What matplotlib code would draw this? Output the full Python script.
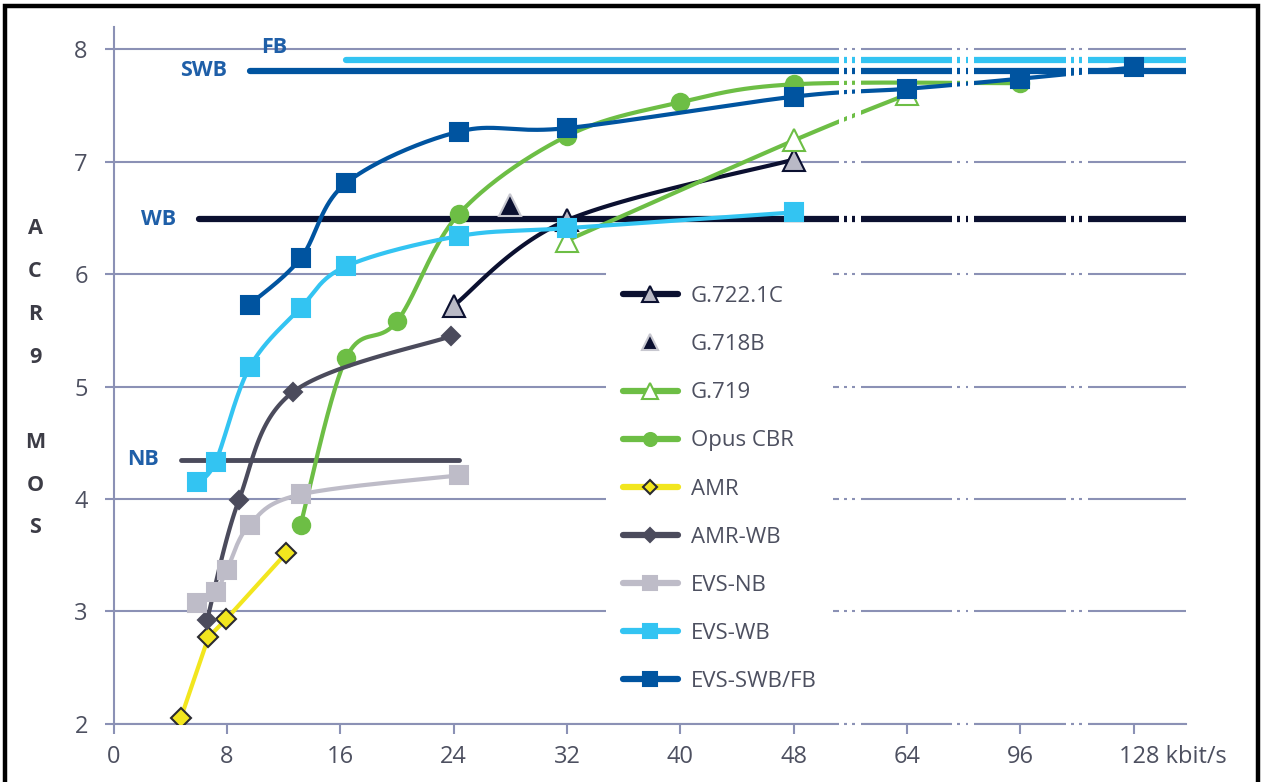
import numpy as np
import matplotlib.pyplot as plt
from matplotlib.patches import Rectangle

# x axis is broken: 0..48 linear, then 64, 96, 128 evenly spaced
kb_break = [-48, 48, 64, 96, 128, 160]
pos_break = [-6, 6, 7, 8, 9, 10]


def fwd(x):
    return np.interp(x, kb_break, pos_break)


def inv(p):
    return np.interp(p, pos_break, kb_break)


# ---- data (kbit/s, ACR9 MOS) ----
g7221c_x = [24, 32, 48]
g7221c_y = [5.72, 6.48, 7.02]
g718b_x = [28]
g718b_y = [6.62]
g719_x = [32, 48, 64]
g719_y = [6.30, 7.19, 7.60]
opus_x = [13.2, 16.4, 20, 24.4, 32, 40, 48, 96]
opus_y = [3.77, 5.25, 5.58, 6.54, 7.23, 7.53, 7.69, 7.70]
amr_x = [4.75, 6.7, 7.95, 12.2]
amr_y = [2.05, 2.77, 2.93, 3.52]
amrwb_x = [6.6, 8.85, 12.65, 23.85]
amrwb_y = [2.92, 3.99, 4.95, 5.45]
evsnb_x = [5.9, 7.2, 8.0, 9.6, 13.2, 24.4]
evsnb_y = [3.07, 3.17, 3.37, 3.77, 4.04, 4.21]
evswb_x = [5.9, 7.2, 9.6, 13.2, 16.4, 24.4, 32, 48]
evswb_y = [4.15, 4.33, 5.17, 5.70, 6.07, 6.34, 6.41, 6.55]
evsswb_x = [9.6, 13.2, 16.4, 24.4, 32, 48, 64, 96, 128]
evsswb_y = [5.73, 6.14, 6.81, 7.27, 7.30, 7.58, 7.65, 7.74, 7.84]

# bandwidth reference levels: name, start kbit/s, MOS
band_names = ['FB', 'SWB', 'WB', 'NB']
band_start = [16.4, 9.6, 6.0, 4.75]
band_end = [142.7, 142.7, 142.7, 24.4]
band_level = [7.91, 7.81, 6.49, 4.35]

xticks = [0, 8, 16, 24, 32, 40, 48, 64, 96, 128]
xtick_labels = ['0', '8', '16', '24', '32', '40', '48', '64', '96', '']
yticks = [2, 3, 4, 5, 6, 7, 8]

# colours
c_grid = '#8B91B5'
c_navy = '#0B1030'
c_dblue = '#0054A0'
c_lblue = '#33C4F2'
c_green = '#6DBE45'
c_yellow = '#F2E61E'
c_dgrey = '#4B4B5C'
c_lgrey = '#BEBCC8'
c_label = '#1F5FA8'
c_text = '#4D5060'


def smooth(xs, ys, n=40):
    # Catmull-Rom style bezier through the points, in screen-like (position, MOS) space
    p = fwd(np.asarray(xs, float))
    y = np.asarray(ys, float)
    pts = np.column_stack([p, y])
    if len(pts) < 3:
        return inv(pts[:, 0]), pts[:, 1]
    ext = np.vstack([pts[0], pts, pts[-1]])
    out = []
    t = np.linspace(0, 1, n)[:, None]
    for i in range(1, len(ext) - 2):
        p0, p1, p2, p3 = ext[i - 1], ext[i], ext[i + 1], ext[i + 2]
        b1 = p1 + (p2 - p0) / 6
        b2 = p2 - (p3 - p1) / 6
        seg = ((1 - t) ** 3) * p1 + 3 * ((1 - t) ** 2) * t * b1 + 3 * (1 - t) * t ** 2 * b2 + t ** 3 * p2
        out.append(seg if i == 1 else seg[1:])
    out = np.vstack(out)
    return inv(out[:, 0]), out[:, 1]


plt.rcParams['font.family'] = ['Open Sans', 'DejaVu Sans']

fig = plt.figure(figsize=(12.61, 7.82), dpi=100)
ax = fig.add_axes([113.5 / 1261, (782 - 723.7) / 782, (1186 - 113.5) / 1261, (723.7 - 27) / 782])
ax.set_xscale('function', functions=(fwd, inv))
ax.set_xlim(0, inv(9.46))
ax.set_ylim(2, 8.2)

# range lines
band_colors = [c_lblue, c_dblue, c_navy, c_dgrey]
band_lw = [4.5, 4.5, 4.5, 3.5]
for name, x0, x1, lev, col, lw in zip(band_names, band_start, band_end, band_level, band_colors, band_lw):
    ax.plot([x0, x1], [lev, lev], color=col, lw=lw, solid_capstyle='round', zorder=2)
    if name == 'FB':
        ax.annotate(name, xy=(x0, lev), xytext=(-42, 9), textcoords='offset points',
                    ha='right', va='center', fontsize=15.5, fontweight='bold', color=c_label)
    else:
        ax.annotate(name, xy=(x0, lev), xytext=(-16, 0), textcoords='offset points',
                    ha='right', va='center', fontsize=15.5, fontweight='bold', color=c_label)

series = [
    ('G.722.1C', g7221c_x, g7221c_y, c_navy, '^', 15.5, '#B9B9C6', c_navy, True),
    ('G.718B', g718b_x, g718b_y, None, '^', 15.5, c_navy, '#C8C8D0', False),
    ('G.719', g719_x, g719_y, c_green, '^', 15.5, 'white', c_green, True),
    ('Opus CBR', opus_x, opus_y, c_green, 'o', 12.5, c_green, c_green, True),
    ('AMR', amr_x, amr_y, c_yellow, 'D', 10, c_yellow, '#2A2A30', False),
    ('AMR-WB', amrwb_x, amrwb_y, c_dgrey, 'D', 9.5, c_dgrey, c_dgrey, True),
    ('EVS-NB', evsnb_x, evsnb_y, c_lgrey, 's', 13, c_lgrey, c_lgrey, True),
    ('EVS-WB', evswb_x, evswb_y, c_lblue, 's', 13, c_lblue, c_lblue, True),
    ('EVS-SWB/FB', evsswb_x, evsswb_y, c_dblue, 's', 13, c_dblue, c_dblue, True),
]

handles = []
for i, (name, xs, ys, lc, mk, ms, mfc, mec, sm) in enumerate(series):
    z = 3 + i * 0.1
    if lc is not None:
        if sm:
            sx, sy = smooth(xs, ys)
        else:
            sx, sy = xs, ys
        ax.plot(sx, sy, color=lc, lw=3, solid_capstyle='round', zorder=z)
    ax.plot(xs, ys, ls='none', marker=mk, ms=ms, mfc=mfc, mec=mec, mew=1.5, zorder=z + 0.05)
    h, = ax.plot([], [], color=lc if lc else 'none', lw=4.5 if lc else 0, solid_capstyle='round',
                 marker=mk, ms=ms, mfc=mfc, mec=mec, mew=1.5)
    handles.append(h)

# axes styling
for s in ['top', 'right']:
    ax.spines[s].set_visible(False)
for s in ['left', 'bottom']:
    ax.spines[s].set_color(c_grid)
    ax.spines[s].set_linewidth(1.5)
ax.set_yticks(yticks)
ax.set_xticks(xticks)
ax.set_xticklabels(xtick_labels)
ax.xaxis.set_minor_locator(plt.NullLocator())
ax.yaxis.grid(True, color=c_grid, lw=1.5)
ax.set_axisbelow(True)
ax.tick_params(axis='y', length=6.5, width=1.5, color=c_grid, pad=12, labelsize=17, labelcolor=c_text)
ax.tick_params(axis='x', length=7.5, width=1.5, color=c_grid, pad=8, labelsize=17, labelcolor=c_text)
ax.annotate('128 kbit/s', xy=(128, 0), xycoords=('data', 'axes fraction'), xytext=(-11, -15.5),
            textcoords='offset points', ha='left', va='top', fontsize=17, color=c_text)

# axis breaks: white slits over gridlines, curves and the x axis
for b in [6, 7, 8]:
    for a0, a1 in [(0.400, 0.444), (0.468, 0.518), (0.541, 0.592)]:
        ax.axvspan(inv(b + a0), inv(b + a1), ymin=-0.01, ymax=1, color='white', lw=0,
                   zorder=6, clip_on=False)

leg = ax.legend(handles, [s[0] for s in series], loc='upper left', bbox_to_anchor=(0.4594, 0.652),
                borderaxespad=0, frameon=True, facecolor='white', edgecolor='none', framealpha=1,
                fontsize=16, handlelength=2.46, handletextpad=0.6, labelspacing=1.22,
                borderpad=0.75, markerscale=0.75)
leg.set_zorder(7)
for t in leg.get_texts():
    t.set_color(c_text)

# vertical y label, one letter per line
letters = ['A', 'C', 'R', '9', '', 'M', 'O', 'S']
for i, ch in enumerate(letters):
    fig.text(35 / 1261, 1 - (229 + i * 42.7) / 782, ch, ha='center', va='center',
             fontsize=15.5, fontweight='bold', color='#3C3C46')

# black frame around picture (open at bottom)
fig.patches.append(Rectangle((5 / 1261, -0.1), (1257.5 - 5) / 1261, 1 - 6 / 782 + 0.1,
                             transform=fig.transFigure, fill=False, ec='black', lw=3.2))

fig.savefig('out.png', dpi=100, facecolor='white')
